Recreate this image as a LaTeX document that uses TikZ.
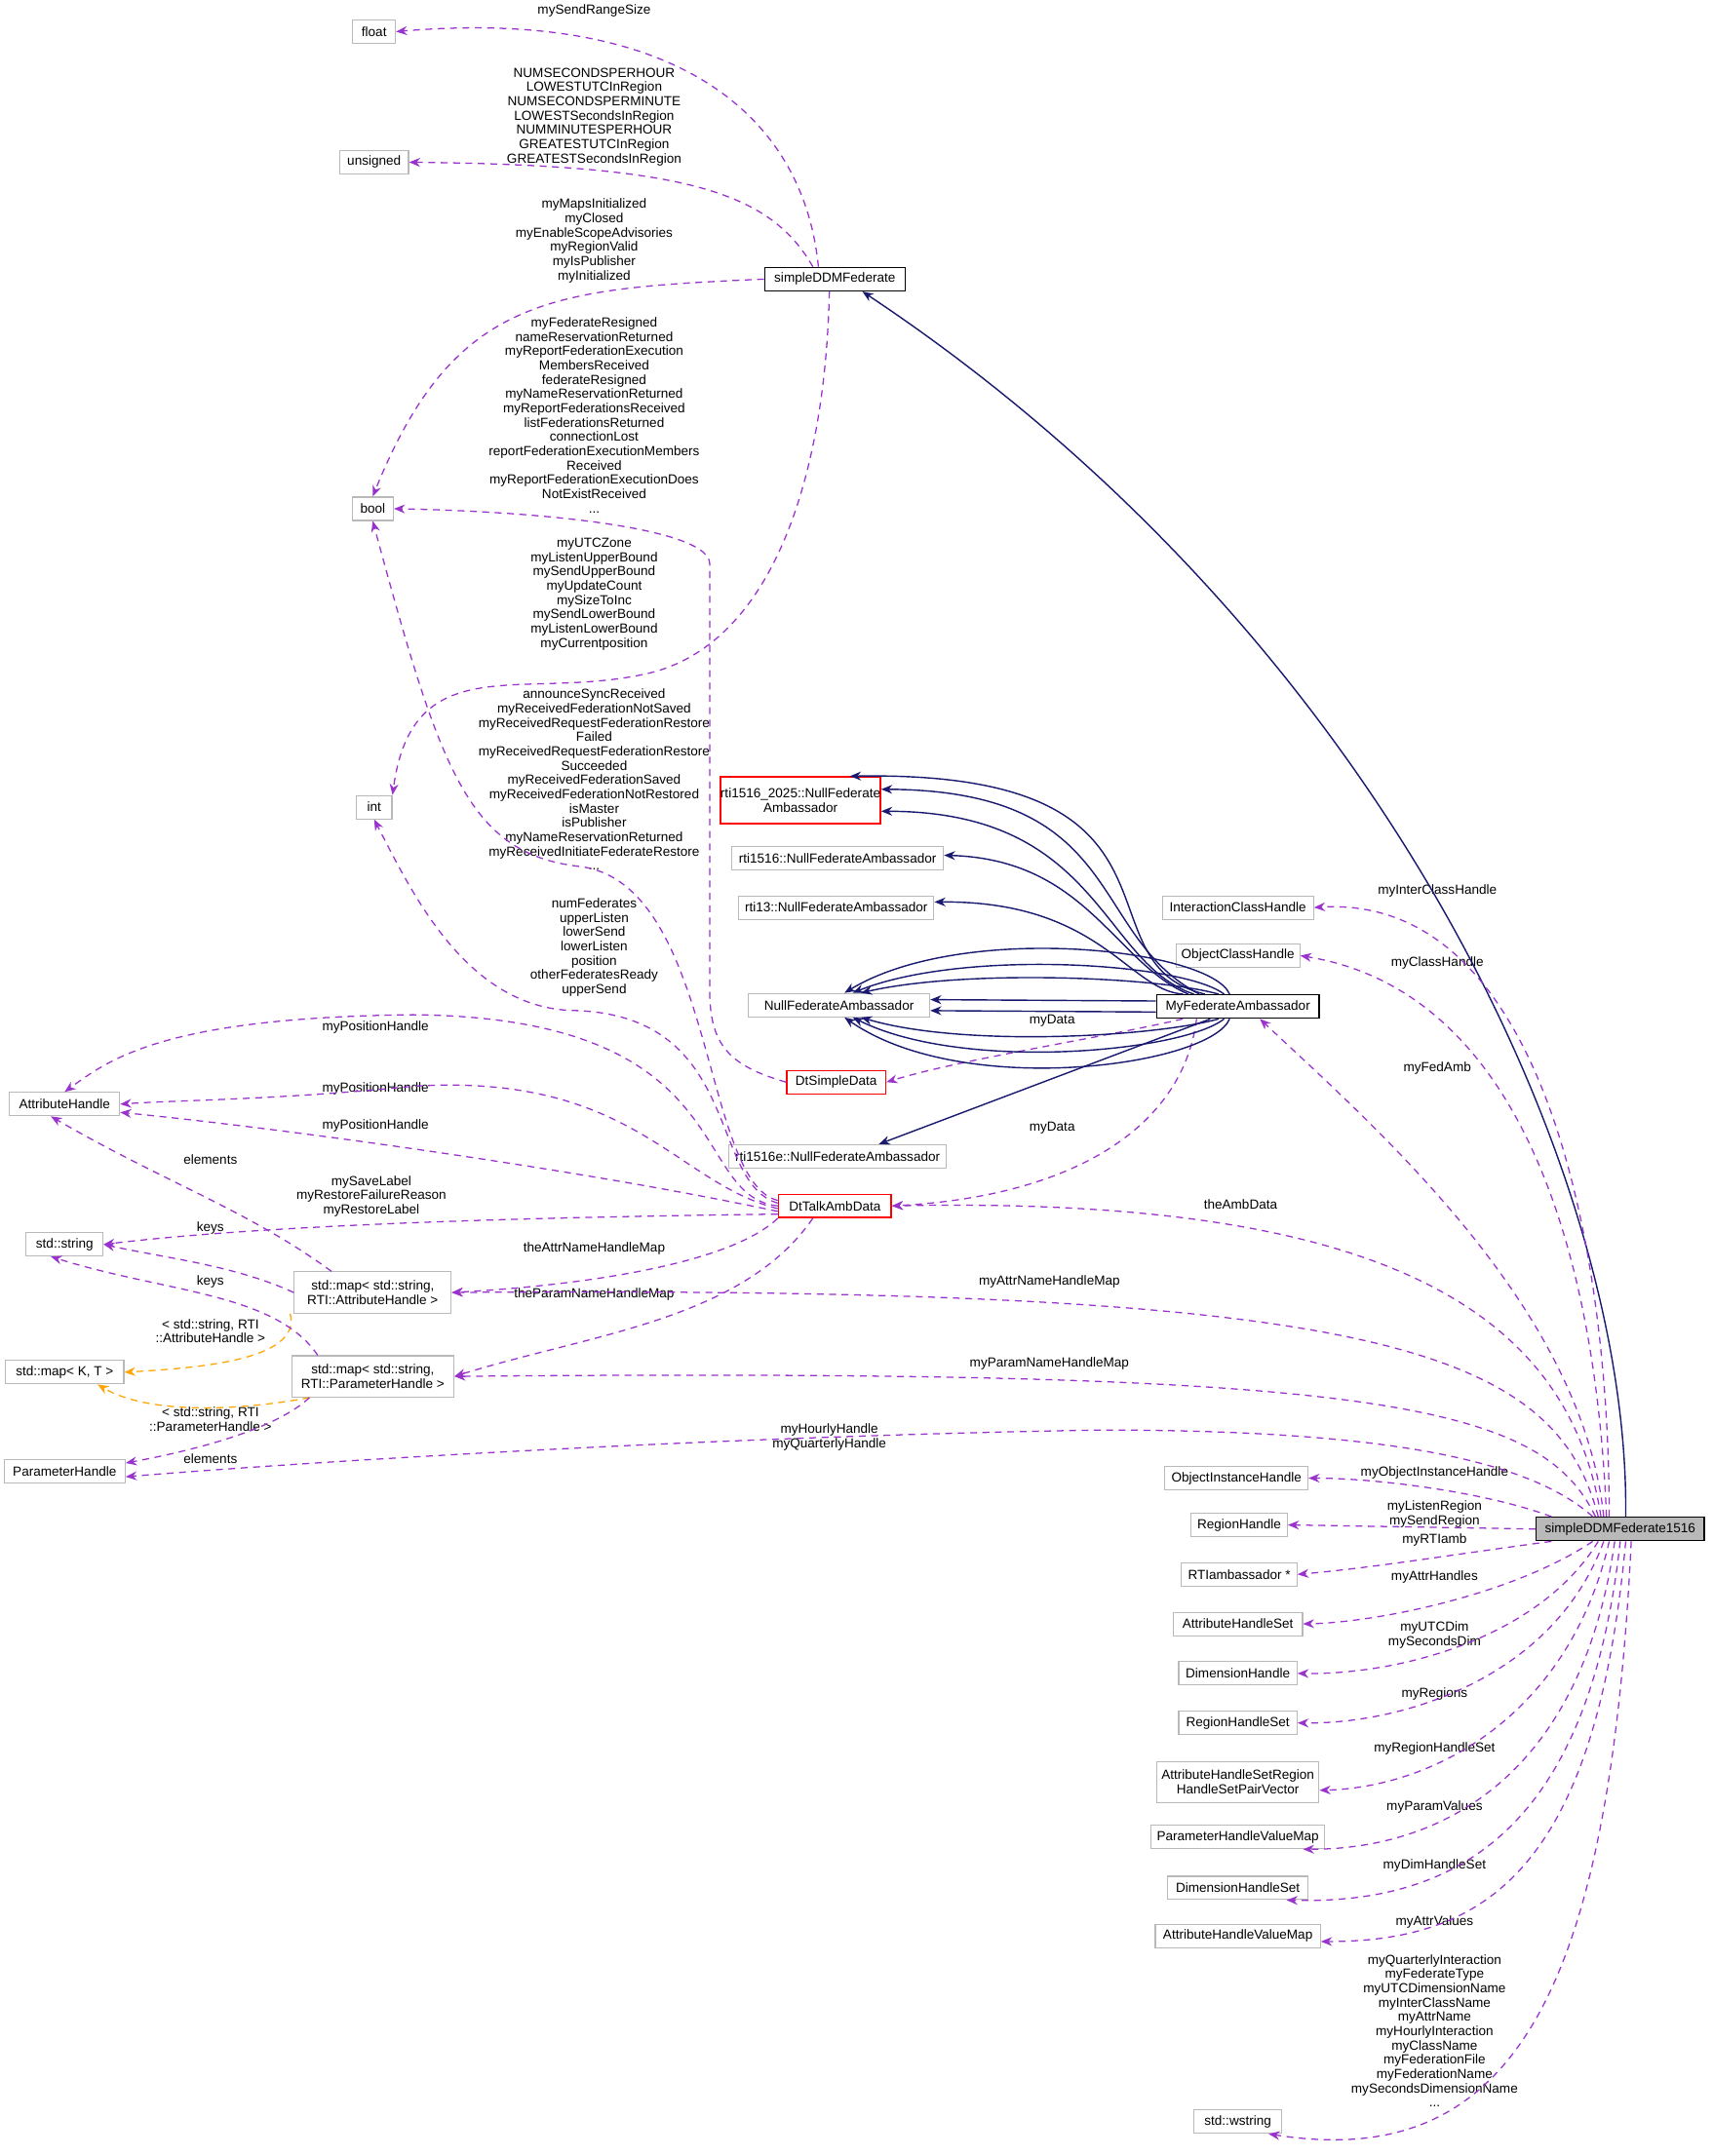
\documentclass[tikz,border=0pt]{standalone}
\usepackage{fontspec}
\setmainfont{Liberation Sans}
\usetikzlibrary{arrows.meta}
\definecolor{dep}{HTML}{9A32CD}
\definecolor{inh}{HTML}{191970}
\definecolor{tpl}{HTML}{FFA500}
\begin{document}
\begin{tikzpicture}[x=0.5pt,y=-0.5pt,
  every node/.style={font=\fontsize{4.8}{5.2}\selectfont, align=center, inner sep=0pt},
  box/.style={draw=gray!55, line width=0.4pt, minimum height=8.5pt, fill=white},
  bbox/.style={box, draw=black, line width=0.5pt},
  rbox/.style={box, draw=red, line width=0.5pt},
  lbl/.style={},
  dep/.style={draw=dep, dashed, dash pattern=on 2.5pt off 2pt, line width=0.45pt, -{Stealth[length=4pt,width=3.2pt]}},
  inh/.style={draw=inh, line width=0.5pt, -{Stealth[length=4pt,width=3.2pt]}},
  tpl/.style={draw=tpl, dashed, dash pattern=on 2.5pt off 2pt, line width=0.45pt, -{Stealth[length=4pt,width=3.2pt]}}]
\fill[white] (0,0) rectangle (1245,1568);
\useasboundingbox (0,0) rectangle (1245,1568);
% nodes
\node[box,minimum width=15.5pt] (float) at (272,23) {float};
\node[box,minimum width=25pt] (uns) at (272,118) {unsigned};
\node[bbox,minimum width=51pt] (sd) at (607,203) {simpleDDMFederate};
\node[box,minimum width=15pt] (bool) at (271,370) {bool};
\node[box,minimum width=13pt] (int) at (272,587) {int};
\node[rbox,minimum width=56pt,minimum height=17pt] (r25) at (582,582) {rti1516\_2025::NullFederate\\Ambassador};
\node[box,minimum width=77pt] (r16) at (609,624) {rti1516::NullFederateAmbassador};
\node[box,minimum width=71pt] (r13) at (608,660) {rti13::NullFederateAmbassador};
\node[box,minimum width=55pt] (ich) at (900,660) {InteractionClassHandle};
\node[box,minimum width=45pt] (och) at (900,695) {ObjectClassHandle};
\node[box,minimum width=66pt] (nfa) at (610,731) {NullFederateAmbassador};
\node[bbox,minimum width=59pt] (mfa) at (900,732) {MyFederateAmbassador};
\node[rbox,minimum width=36pt] (dsd) at (608,787) {DtSimpleData};
\node[box,minimum width=79pt] (r1e) at (609,841) {rti1516e::NullFederateAmbassador};
\node[box,minimum width=40pt] (ah) at (47,803) {AttributeHandle};
\node[rbox,minimum width=41pt] (dta) at (607,877) {DtTalkAmbData};
\node[box,minimum width=28pt] (ss) at (47,905) {std::string};
\node[box,minimum width=57pt,minimum height=15pt] (mapA) at (271,940) {std::map< std::string,\\RTI::AttributeHandle >};
\node[box,minimum width=43pt] (mkt) at (47,998) {std::map< K, T >};
\node[box,minimum width=59pt,minimum height=15pt] (mapP) at (271,1001) {std::map< std::string,\\RTI::ParameterHandle >};
\node[box,minimum width=44pt] (ph) at (47,1070) {ParameterHandle};
\node[box,minimum width=52pt] (oih) at (899,1075) {ObjectInstanceHandle};
\node[bbox,fill=gray!55,minimum width=61pt] (s) at (1178,1112) {simpleDDMFederate1516};
\node[box,minimum width=35pt] (rh) at (901,1109) {RegionHandle};
\node[box,minimum width=42pt] (rti) at (901,1145) {RTIambassador *};
\node[box,minimum width=47pt] (ahs) at (900,1181) {AttributeHandleSet};
\node[box,minimum width=43pt] (dh) at (900,1217) {DimensionHandle};
\node[box,minimum width=43pt] (rhs) at (900,1253) {RegionHandleSet};
\node[box,minimum width=59pt,minimum height=15pt] (ahsr) at (900,1296) {AttributeHandleSetRegion\\HandleSetPairVector};
\node[box,minimum width=63pt] (phvm) at (900,1336) {ParameterHandleValueMap};
\node[box,minimum width=51pt] (dhs) at (900,1373) {DimensionHandleSet};
\node[box,minimum width=60pt] (ahvm) at (900,1408) {AttributeHandleValueMap};
\node[box,minimum width=32pt] (ws) at (900,1543) {std::wstring};
% labels
\node[lbl] (l1) at (432,8) {mySendRangeSize};
\node[lbl] (l2) at (432,85) {NUMSECONDSPERHOUR\\LOWESTUTCInRegion\\NUMSECONDSPERMINUTE\\LOWESTSecondsInRegion\\NUMMINUTESPERHOUR\\GREATESTUTCInRegion\\GREATESTSecondsInRegion};
\node[lbl] (l3) at (432,175) {myMapsInitialized\\myClosed\\myEnableScopeAdvisories\\myRegionValid\\myIsPublisher\\myInitialized};
\node[lbl] (l4) at (432,302) {myFederateResigned\\nameReservationReturned\\myReportFederationExecution\\MembersReceived\\federateResigned\\myNameReservationReturned\\myReportFederationsReceived\\listFederationsReturned\\connectionLost\\reportFederationExecutionMembers\\Received\\myReportFederationExecutionDoes\\NotExistReceived\\...};
\node[lbl] (l5) at (432,432) {myUTCZone\\myListenUpperBound\\mySendUpperBound\\myUpdateCount\\mySizeToInc\\mySendLowerBound\\myListenLowerBound\\myCurrentposition};
\node[lbl] (l6) at (432,567) {announceSyncReceived\\myReceivedFederationNotSaved\\myReceivedRequestFederationRestore\\Failed\\myReceivedRequestFederationRestore\\Succeeded\\myReceivedFederationSaved\\myReceivedFederationNotRestored\\isMaster\\isPublisher\\myNameReservationReturned\\myReceivedInitiateFederateRestore\\...};
\node[lbl] (l7) at (432,689) {numFederates\\upperListen\\lowerSend\\lowerListen\\position\\otherFederatesReady\\upperSend};
\node[lbl] (l8) at (273,747) {myPositionHandle};
\node[lbl] (l9) at (273,792) {myPositionHandle};
\node[lbl] (l10) at (273,819) {myPositionHandle};
\node[lbl] (l11) at (153,843) {elements};
\node[lbl] (l12) at (270,870) {mySaveLabel\\myRestoreFailureReason\\myRestoreLabel};
\node[lbl] (l13) at (153,893) {keys};
\node[lbl] (l14) at (432,908) {theAttrNameHandleMap};
\node[lbl] (l15) at (153,932) {keys};
\node[lbl] (l16) at (432,941) {theParamNameHandleMap};
\node[lbl] (l17) at (153,968) {< std::string, RTI\\::AttributeHandle >};
\node[lbl] (l18) at (153,1032) {< std::string, RTI\\::ParameterHandle >};
\node[lbl] (l19) at (153,1061) {elements};
\node[lbl] (l20) at (765,742) {myData};
\node[lbl] (l21) at (765,820) {myData};
\node[lbl] (l22) at (1045,648) {myInterClassHandle};
\node[lbl] (l23) at (1045,700) {myClassHandle};
\node[lbl] (l24) at (1045,777) {myFedAmb};
\node[lbl] (l25) at (902,876) {theAmbData};
\node[lbl] (l26) at (763,932) {myAttrNameHandleMap};
\node[lbl] (l27) at (763,992) {myParamNameHandleMap};
\node[lbl] (l28) at (603,1045) {myHourlyHandle\\myQuarterlyHandle};
\node[lbl] (l29) at (1043,1071) {myObjectInstanceHandle};
\node[lbl] (l30) at (1043,1101) {myListenRegion\\mySendRegion};
\node[lbl] (l31) at (1043,1120) {myRTIamb};
\node[lbl] (l32) at (1043,1147) {myAttrHandles};
\node[lbl] (l33) at (1043,1189) {myUTCDim\\mySecondsDim};
\node[lbl] (l34) at (1043,1232) {myRegions};
\node[lbl] (l35) at (1043,1272) {myRegionHandleSet};
\node[lbl] (l36) at (1043,1314) {myParamValues};
\node[lbl] (l37) at (1043,1357) {myDimHandleSet};
\node[lbl] (l38) at (1043,1398) {myAttrValues};
\node[lbl] (l39) at (1043,1477) {myQuarterlyInteraction\\myFederateType\\myUTCDimensionName\\myInterClassName\\myAttrName\\myHourlyInteraction\\myClassName\\myFederationFile\\myFederationName\\mySecondsDimensionName\\...};
% edges from simpleDDMFederate
\draw[dep] ([xshift=-6pt]sd.north) .. controls (585,90) and (500,5) .. (float.east);
\draw[dep] ([xshift=-8pt]sd.north) .. controls (560,140) and (500,120) .. (uns.east);
\draw[dep] (sd.west) .. controls (400,210) and (330,215) .. (bool.north);
\draw[dep] ([xshift=-2pt]sd.south) .. controls (600,350) and (560,470) .. (470,490) .. controls (380,510) and (300,470) .. (int.north east);
% DtSimpleData / DtTalkAmbData
\draw[dep] (dsd.west) .. controls (530,775) and (516,760) .. (516,720) -- (516,410) .. controls (516,385) and (400,372) .. (bool.east);
\draw[dep] ([yshift=2pt]dta.west) .. controls (510,860) and (520,640) .. (420,630) .. controls (340,620) and (320,560) .. (bool.south);
\draw[dep] ([yshift=1pt]dta.west) .. controls (515,860) and (540,740) .. (420,735) .. controls (340,735) and (300,650) .. (int.south);
\draw[dep] ([yshift=0pt]dta.west) .. controls (500,870) and (540,740) .. (300,738) .. controls (120,740) and (80,770) .. (ah.north);
\draw[dep] ([yshift=-1pt]dta.west) .. controls (490,860) and (460,780) .. (300,790) .. controls (200,800) and (130,800) .. (ah.east);
\draw[dep] ([yshift=-2pt]dta.west) .. controls (420,850) and (200,820) .. ([yshift=-3pt]ah.east);
\draw[dep] ([yshift=-3pt]dta.west) .. controls (400,885) and (200,890) .. (ss.east);
\draw[dep] (dta.south west) .. controls (530,920) and (420,935) .. (mapA.east);
\draw[dep] ([xshift=-8pt]dta.south) .. controls (540,960) and (430,970) .. (mapP.east);
% maps
\draw[dep] ([xshift=-15pt]mapA.north) .. controls (180,880) and (120,860) .. ([xshift=-5pt]ah.south);
\draw[dep] (mapA.west) .. controls (170,920) and (120,915) .. (ss.east);
\draw[tpl] ([xshift=-30pt]mapA.south) .. controls (220,990) and (140,995) .. (mkt.east);
\draw[dep] ([xshift=-20pt]mapP.north) .. controls (200,940) and (120,940) .. ([xshift=-5pt]ss.south);
\draw[tpl] ([xshift=-23pt]mapP.south) .. controls (180,1025) and (110,1030) .. ([xshift=12pt]mkt.south);
\draw[dep] ([xshift=-23pt]mapP.south) .. controls (200,1040) and (140,1055) .. ([yshift=3pt]ph.east);
% MyFederateAmbassador
\draw[dep] ([xshift=-20pt]mfa.south) .. controls (800,755) and (700,770) .. (dsd.east);
\draw[dep] ([xshift=-15pt]mfa.south) .. controls (860,820) and (780,870) .. (dta.east);
\draw[inh] ([xshift=-12pt]mfa.north) .. controls (780,700) and (880,560) .. ([xshift=18pt]r25.north);
\draw[inh] ([xshift=-14pt]mfa.north) .. controls (790,680) and (820,575) .. ([yshift=4pt]r25.east);
\draw[inh] ([xshift=-16pt]mfa.north) .. controls (800,700) and (800,590) .. ([yshift=-4pt]r25.east);
\draw[inh] ([xshift=-18pt]mfa.north) .. controls (810,700) and (790,625) .. ([yshift=1pt]r16.east);
\draw[inh] ([xshift=-20pt]mfa.north) .. controls (820,720) and (800,655) .. ([yshift=2pt]r13.east);
\draw[inh] ([xshift=-3pt]mfa.north) .. controls (880,690) and (700,670) .. ([xshift=2pt]nfa.north);
\draw[inh] ([xshift=-5pt]mfa.north) .. controls (860,700) and (700,690) .. ([xshift=5pt]nfa.north);
\draw[inh] ([xshift=-7pt]mfa.north) .. controls (840,710) and (700,705) .. ([xshift=8pt]nfa.north);
\draw[inh] ([yshift=2pt]mfa.west) -- ([yshift=2pt]nfa.east);
\draw[inh] ([yshift=-2pt]mfa.west) -- ([yshift=-2pt]nfa.east);
\draw[inh] ([xshift=-7pt]mfa.south) .. controls (840,754) and (700,762) .. ([xshift=8pt]nfa.south);
\draw[inh] ([xshift=-5pt]mfa.south) .. controls (860,765) and (700,780) .. ([xshift=5pt]nfa.south);
\draw[inh] ([xshift=-3pt]mfa.south) .. controls (880,775) and (700,800) .. ([xshift=2pt]nfa.south);
\draw[inh] ([xshift=-10pt]mfa.south) -- ([xshift=15pt]r1e.north);
% simpleDDMFederate1516
\draw[inh] ([xshift=2pt]s.north) .. controls (1185,850) and (1000,460) .. ([xshift=10pt]sd.south);
\draw[dep] ([xshift=-4pt]s.north) .. controls (1170,900) and (1120,650) .. (ich.east);
\draw[dep] ([xshift=-5pt]s.north) .. controls (1160,900) and (1100,720) .. (och.east);
\draw[dep] ([xshift=-6pt]s.north) .. controls (1150,950) and (1000,820) .. ([xshift=8pt]mfa.south);
\draw[dep] ([xshift=-7pt]s.north) .. controls (1140,950) and (1000,870) .. (dta.east);
\draw[dep] ([xshift=-8pt]s.north) .. controls (1130,980) and (1000,935) .. (mapA.east);
\draw[dep] ([xshift=-9pt]s.north) .. controls (1120,1020) and (1000,995) .. (mapP.east);
\draw[dep] ([xshift=-10pt]s.north) .. controls (1110,1060) and (1000,1040) .. (800,1040) .. controls (500,1045) and (200,1065) .. ([yshift=-2pt]ph.east);
\draw[dep] ([xshift=-25pt]s.north) .. controls (1080,1085) and (1000,1075) .. (oih.east);
\draw[dep] (s.west) -- (rh.east);
\draw[dep] ([xshift=-25pt]s.south) .. controls (1060,1130) and (1000,1140) .. (rti.east);
\draw[dep] ([xshift=-10pt]s.south) .. controls (1100,1160) and (1000,1180) .. (ahs.east);
\draw[dep] ([xshift=-8pt]s.south) .. controls (1120,1190) and (1020,1218) .. (dh.east);
\draw[dep] ([xshift=-6pt]s.south) .. controls (1130,1220) and (1020,1254) .. (rhs.east);
\draw[dep] ([xshift=-4pt]s.south) .. controls (1140,1250) and (1040,1300) .. ([yshift=-3pt]ahsr.east);
\draw[dep] ([xshift=-2pt]s.south) .. controls (1150,1290) and (1050,1345) .. ([xshift=-8pt]phvm.south east);
\draw[dep] ([xshift=0pt]s.south) .. controls (1155,1330) and (1060,1385) .. ([xshift=-8pt]dhs.south east);
\draw[dep] ([xshift=2pt]s.south) .. controls (1160,1360) and (1080,1412) .. ([yshift=-2pt]ahvm.east);
\draw[dep] ([xshift=4pt]s.south) .. controls (1170,1450) and (1100,1580) .. ([xshift=-5pt]ws.south east);
\end{tikzpicture}
\end{document}
